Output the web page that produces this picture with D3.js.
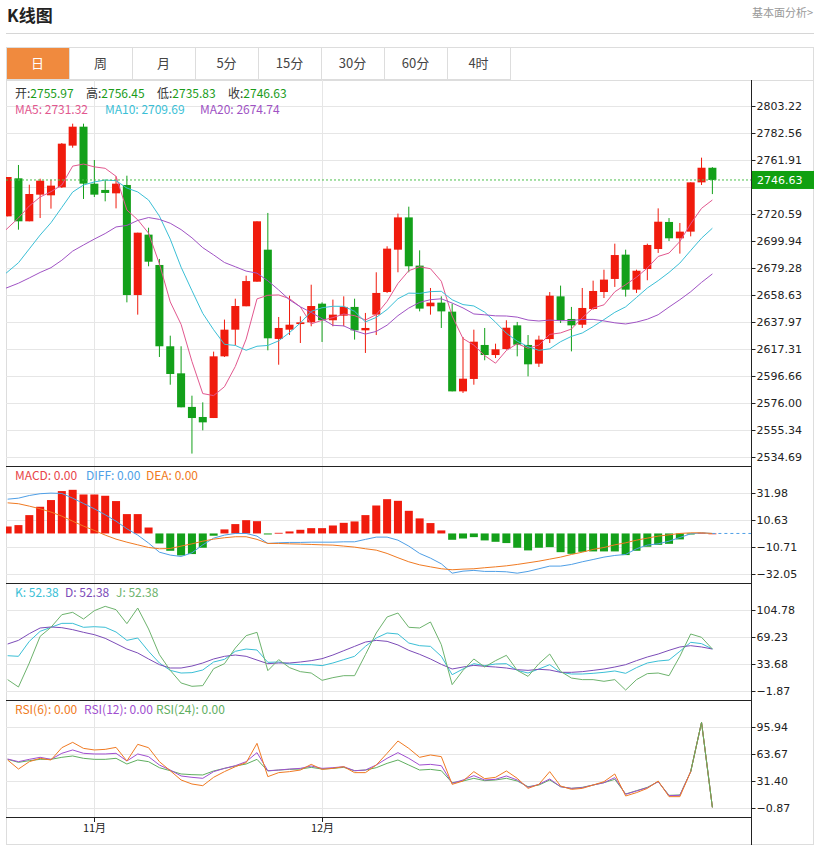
<!DOCTYPE html>
<html><head><meta charset="utf-8">
<script src="https://cdn.jsdelivr.net/npm/d3@7"></script>
<style>body{margin:0;background:#fff;font-family:"Noto Sans CJK SC","DejaVu Sans",sans-serif}</style>
</head><body><svg id="c" width="817" height="846"></svg>
<script>
const opens=[2718.8,2747.9,2715.0,2735.4,2734.9,2741.0,2772.9,2787.4,2743.8,2739.0,2736.4,2742.8,2658.6,2704.8,2681.6,2619.4,2598.7,2573.0,2565.3,2564.5,2611.7,2632.1,2650.0,2668.8,2693.3,2625.0,2632.1,2636.4,2637.7,2652.0,2639.3,2642.8,2649.5,2631.6,2643.6,2660.9,2693.3,2718.0,2681.1,2650.0,2652.8,2645.9,2584.9,2594.4,2620.4,2612.7,2617.3,2635.4,2620.4,2606.1,2624.9,2657.6,2640.3,2635.9,2647.9,2660.9,2670.9,2689.5,2662.7,2678.5,2693.8,2714.5,2702.0,2707.1,2744.8,2755.97];
const highs=[2748.9,2758.1,2743.0,2747.6,2746.9,2774.9,2789.7,2789.7,2761.9,2746.9,2749.4,2749.9,2706.3,2710.1,2686.2,2627.5,2619.4,2581.6,2576.5,2615.3,2639.8,2655.8,2673.4,2715.0,2721.4,2641.8,2658.1,2642.3,2666.5,2653.0,2655.1,2657.6,2655.8,2644.9,2676.0,2695.9,2720.9,2726.2,2692.8,2664.0,2657.6,2652.0,2626.5,2632.1,2633.4,2621.4,2639.3,2638.0,2628.0,2627.5,2660.9,2665.8,2649.5,2664.0,2669.6,2678.0,2697.9,2693.3,2678.0,2697.9,2724.9,2717.5,2713.7,2744.8,2763.7,2756.45];
const lows=[2718.8,2708.6,2715.0,2717.5,2724.7,2740.5,2771.3,2732.1,2733.6,2730.3,2724.9,2653.0,2643.6,2680.6,2611.2,2590.0,2572.7,2537.3,2555.1,2564.5,2611.2,2620.1,2650.0,2668.8,2616.3,2605.3,2628.0,2621.9,2634.7,2622.7,2634.7,2634.7,2624.5,2614.3,2628.0,2660.2,2676.0,2676.0,2646.1,2643.6,2633.4,2584.9,2583.7,2590.0,2608.7,2610.4,2616.8,2611.7,2596.4,2603.6,2621.9,2637.2,2615.5,2633.4,2647.4,2656.3,2664.8,2657.4,2660.2,2669.9,2690.8,2699.9,2690.3,2703.5,2742.8,2735.83];
const closes=[2748.9,2715.0,2735.9,2746.1,2742.3,2774.4,2787.4,2743.8,2735.4,2736.7,2743.8,2658.6,2706.3,2684.1,2619.4,2598.2,2572.7,2564.5,2561.2,2611.7,2632.1,2650.2,2669.3,2715.0,2625.5,2633.4,2635.9,2637.7,2650.2,2639.3,2643.6,2649.5,2631.6,2633.4,2660.2,2694.1,2718.0,2680.6,2648.2,2652.8,2646.1,2584.9,2594.6,2622.9,2612.7,2617.1,2633.6,2620.6,2605.6,2624.5,2658.1,2639.3,2635.4,2648.7,2661.7,2670.4,2689.2,2662.7,2677.2,2696.9,2714.7,2702.0,2707.1,2744.8,2756.0,2746.63];
const prevCloses=[2640,2655,2662,2670,2660,2648,2650,2645,2652,2643,2635,2630,2640,2648,2657,2670,2690,2712,2722];
const macdHist=[5.5,6.6,14.5,21.1,26.4,33.5,34.5,30.8,30.8,29.8,25.6,15.3,15.3,4.7,-7.9,-13.7,-17.4,-16.3,-11.3,-1.8,3.2,7.4,10.5,9.7,-0.8,0.5,1.6,2.9,4.2,4.2,6.3,8.4,9.5,14.5,22.1,27.1,25.8,17.9,11.9,8.2,2.4,-5.0,-4.0,-2.9,-5.5,-6.6,-7.6,-11.3,-13.4,-11.3,-10.8,-14.8,-16.1,-14.5,-14.2,-14.2,-14.2,-17.1,-13.7,-10.5,-9.0,-8.2,-4.7,-0.8,0.5,0];
const diff=[27.1,27.9,30.0,31.4,31.9,31.6,27.9,23.7,19.5,14.8,9.7,3.7,-1.3,-7.6,-14.8,-17.1,-18.2,-15.3,-9.0,-3.7,-1.3,0,0,-2.1,-7.9,-7.4,-7.1,-7.1,-6.9,-6.9,-6.9,-6.6,-6.6,-4.7,-2.9,-2.9,-5.3,-10.0,-15.8,-19.5,-24.0,-31.4,-29.8,-29.2,-30.0,-30.0,-30.3,-31.4,-30.0,-27.9,-25.8,-25.8,-24.5,-22.4,-20.6,-18.7,-17.4,-16.6,-12.1,-9.2,-8.2,-6.1,-3.2,-0.3,0.5,0];
const dea=[24.2,23.5,21.6,19.5,16.9,13.7,9.7,5.8,2.4,-1.3,-4.5,-6.9,-9.0,-11.1,-12.1,-11.9,-10.0,-8.2,-6.1,-4.5,-3.4,-2.6,-2.6,-4.7,-7.9,-7.9,-8.2,-8.4,-8.7,-9.0,-9.2,-10.0,-10.8,-12.1,-13.2,-15.8,-19.2,-22.4,-24.8,-26.4,-27.9,-28.7,-28.2,-27.9,-27.1,-26.4,-25.6,-24.5,-23.2,-21.9,-20.3,-18.7,-16.6,-14.8,-12.6,-11.1,-9.0,-7.4,-5.3,-3.7,-2.1,-1.1,0,0.5,0.5,0];
const kVals=[44.6,43.8,63.5,76.7,82.0,87.2,87.2,82.0,82.8,82.0,75.8,64.8,67.9,50.4,35.0,25.3,21.8,22.3,25.8,36.3,39.8,50.4,53.4,52.1,35.9,36.3,33.7,32.8,32.8,31.5,35.0,39.4,43.8,56.9,67.9,74.5,73.2,61.3,57.8,56.9,43.8,19.6,27.1,34.1,31.5,33.7,34.1,25.3,21.8,27.1,32.8,22.7,20.5,20.5,21.4,22.7,24.5,21.4,28.9,35.0,37.6,38.9,50.4,62.2,60.5,53.4];
const dVals=[60.0,64.8,73.6,81.1,82.4,81.5,78.9,75.4,72.3,67.5,60.5,53.4,48.2,40.3,32.8,28.4,28.4,31.0,35.0,40.3,43.8,45.5,43.8,38.9,34.1,35.0,35.0,36.3,38.1,40.7,45.5,51.2,56.9,62.6,64.8,63.5,58.7,51.7,46.4,40.3,33.2,27.1,29.7,31.9,30.6,29.7,28.4,26.2,25.3,26.7,25.8,22.7,22.7,23.6,25.3,27.1,29.7,32.8,38.1,42.9,46.8,51.7,56.1,57.8,56.1,53.4];
const jVals=[13.1,3.4,35.0,70.1,82.0,98.6,101.7,92.9,103.9,109.6,105.2,86.8,107.4,79.8,46.0,25.3,8.7,4.3,5.2,27.5,34.1,54.7,71.0,75.4,24.9,39.4,28.9,23.6,21.8,12.2,15.7,18.3,18.3,46.0,74.5,95.6,100.8,82.0,81.1,89.0,59.1,6.5,25.3,40.3,29.7,38.1,45.1,25.3,17.4,34.1,46.8,24.0,15.2,13.1,13.1,10.9,13.1,-0.6,13.1,21.0,21.8,18.3,43.8,73.2,68.8,53.4];
const rsi6=[56.5,45.7,54.5,58.5,56.5,71.2,77.6,70.4,68.5,69.2,71.6,55.3,75.2,71.2,54.5,43.7,32.6,27.8,25.8,35.8,42.6,48.5,53.3,76.4,36.6,41.4,42.6,44.5,51.3,45.3,46.5,48.5,41.4,41.4,50.5,64.5,79.2,70.4,59.7,62.5,60.5,27.4,31.4,42.6,34.2,35.8,43.4,34.6,22.6,27.4,42.6,25.4,21.4,22.6,26.6,30.6,39.8,13.5,17.5,22.6,31.4,12.7,12.7,42.6,101.5,-0.1];
const rsi12=[57.7,54.5,57.3,59.7,57.3,64.5,68.5,64.5,63.7,63.7,64.5,55.3,63.7,60.5,50.5,44.5,37.4,35.8,34.6,42.6,46.5,49.7,54.5,65.3,43.7,44.5,45.7,46.5,49.3,46.5,47.3,48.5,43.7,44.5,50.5,58.5,65.3,58.5,50.5,51.3,49.7,28.6,32.6,37.8,32.6,33.4,37.4,32.6,23.8,27.4,33.8,24.6,22.6,23.4,26.6,29.4,35.4,15.5,19.5,23.4,30.6,13.9,14.3,42.6,101.5,-0.1];
const rsi24=[57.3,53.7,55.7,57.3,57.3,59.7,61.3,58.5,57.3,57.3,58.5,51.7,56.5,54.5,47.3,43.7,39.8,39.0,38.6,43.4,46.5,49.3,51.7,57.3,43.4,44.5,45.3,45.7,47.7,45.7,46.5,47.7,43.7,44.5,47.3,52.5,56.5,50.5,44.5,45.3,43.7,29.4,31.4,34.6,31.8,32.6,34.6,31.4,24.6,26.6,32.6,24.6,22.6,23.8,26.6,29.4,33.4,15.9,19.8,23.8,30.6,14.3,14.7,42.6,101.5,-0.1];
const priceTicks=[2803.22,2782.56,2761.91,2741.25,2720.59,2699.94,2679.28,2658.63,2637.97,2617.31,2596.66,2576.00,2555.34,2534.69];
const macdTicks=[31.98,10.63,-10.71,-32.05];
const kdjTicks=[104.78,69.23,33.68,-1.87];
const rsiTicks=[95.94,63.67,31.40,-0.87];
const monthLabels=[{i:8,t:"11月"},{i:29,t:"12月"}];
const tabs=["日","周","月","5分","15分","30分","60分","4时"];

const svg=d3.select("#c");
const RED="#f01b0d",GREEN="#13a01a";
const L=6,R=751,RIGHT=814;
const n=closes.length;
const x=d3.scaleBand().domain(d3.range(n)).range([3.6,3.6+10.8*n]).paddingInner(0.26);
const cx=i=>x(i)+x.bandwidth()/2;
const defs=svg.append("defs");
defs.append("clipPath").attr("id","cp").append("rect").attr("x",L).attr("y",80).attr("width",R-L).attr("height",765);

svg.append("text").attr("x",7).attr("y",22).attr("font-size",17).attr("font-weight","bold").attr("fill","#222").text("K线图");
svg.append("text").attr("x",813).attr("y",17).attr("text-anchor","end").attr("font-size",11).attr("fill","#999").text("基本面分析>");
svg.append("line").attr("x1",L).attr("x2",RIGHT).attr("y1",33.5).attr("y2",33.5).attr("stroke","#d6d6d6");
svg.append("rect").attr("x",L+0.5).attr("y",47.5).attr("width",RIGHT-L-1).attr("height",797).attr("fill","none").attr("stroke","#ddd");
const tabX=d3.scaleBand().domain(tabs).range([L,L+63*8]);
tabs.forEach((t,k)=>{
  svg.append("rect").attr("x",tabX(t)+0.5).attr("y",47.5).attr("width",63).attr("height",32).attr("fill",k==0?"#f08a3e":"#fff").attr("stroke","#ddd");
  svg.append("text").attr("x",tabX(t)+31.5).attr("y",68).attr("text-anchor","middle").attr("font-size",13).attr("fill",k==0?"#fff":"#444").text(t);
});
svg.append("line").attr("x1",L).attr("x2",RIGHT).attr("y1",80.5).attr("y2",80.5).attr("stroke","#ddd");

const panels=[
 {scale:d3.scaleLinear().domain([2534.69,2803.22]).range([457,106]),ticks:priceTicks},
 {scale:d3.scaleLinear().domain([-32.05,31.98]).range([574,493]),ticks:macdTicks},
 {scale:d3.scaleLinear().domain([-1.87,104.78]).range([691,610]),ticks:kdjTicks},
 {scale:d3.scaleLinear().domain([-0.87,95.94]).range([808,727]),ticks:rsiTicks}];
panels.forEach((p,pi)=>{
  p.ticks.forEach(t=>{
    const y=Math.round(p.scale(t))+0.5;
    svg.append("line").attr("x1",L).attr("x2",R).attr("y1",y).attr("y2",y).attr("stroke","#e6e6e6");
  });
  // the tick hidden under the last-price tag is skipped for text, kept as tick mark
  const ax=d3.axisRight(p.scale).tickValues(p.ticks).tickSize(4).tickFormat(d=>(pi==0&&d==2741.25)?"":d3.format(".2f")(d));
  const a=svg.append("g").attr("transform",`translate(${R+0.5},0)`).call(ax);
  a.select(".domain").remove();
  a.selectAll("text").attr("font-family","DejaVu Sans").attr("font-size",11).attr("fill","#222").attr("dx",-2);
  a.selectAll("line").attr("stroke","#222");
});
monthLabels.forEach(m=>{
  const xx=Math.round(cx(m.i))+0.5;
  svg.append("line").attr("x1",xx).attr("x2",xx).attr("y1",80).attr("y2",817).attr("stroke","#e6e6e6");
  svg.append("line").attr("x1",xx).attr("x2",xx).attr("y1",817).attr("y2",822).attr("stroke","#222");
  svg.append("text").attr("x",xx).attr("y",832).attr("text-anchor","middle").attr("font-size",11).attr("fill","#222").text(m.t);
});
[466,583,700,817].forEach(y=>svg.append("line").attr("x1",L).attr("x2",R).attr("y1",y+0.5).attr("y2",y+0.5).attr("stroke","#222"));
svg.append("line").attr("x1",R+0.5).attr("x2",R+0.5).attr("y1",80).attr("y2",845).attr("stroke","#222");

const plot=svg.append("g").attr("clip-path","url(#cp)");
const ys=panels[0].scale;
const candles=plot.selectAll(".cd").data(d3.range(n)).join("g");
candles.append("line").attr("x1",i=>cx(i)).attr("x2",i=>cx(i)).attr("y1",i=>ys(highs[i])).attr("y2",i=>ys(lows[i]))
 .attr("stroke",i=>closes[i]>=opens[i]?RED:GREEN);
candles.append("rect").attr("x",i=>x(i)).attr("width",x.bandwidth())
 .attr("y",i=>ys(Math.max(opens[i],closes[i]))).attr("height",i=>Math.max(1,Math.abs(ys(opens[i])-ys(closes[i]))))
 .attr("fill",i=>closes[i]>=opens[i]?RED:GREEN);
const all=prevCloses.concat(closes);
const ma=p=>d3.range(n).map(i=>d3.mean(all.slice(i+prevCloses.length-p+1,i+prevCloses.length+1)));
const lineP=(sc,vals)=>d3.line().x((d,i)=>cx(i)).y(d=>sc(d))(vals);
[[5,"#e2588f"],[10,"#3bbfd6"],[20,"#a053c4"]].forEach(([p,c])=>{
  plot.append("path").attr("d",d3.line().x((d,i)=>i==0?L:cx(i)).y(d=>ys(d))(ma(p))).attr("fill","none").attr("stroke",c);
});
const last=closes[n-1];
svg.append("line").attr("x1",L).attr("x2",R).attr("y1",ys(last)).attr("y2",ys(last)).attr("stroke","#4cbf4c").attr("stroke-dasharray","2,2");
svg.append("rect").attr("x",R+1).attr("y",ys(last)-9).attr("width",RIGHT-R-1).attr("height",18).attr("fill","#10a010");
svg.append("text").attr("x",R+6).attr("y",ys(last)+4.5).attr("font-family","DejaVu Sans").attr("font-size",11).attr("fill","#fff").text(last.toFixed(2));

const ym=panels[1].scale;
plot.selectAll(".mh").data(macdHist).join("rect").attr("x",(d,i)=>x(i)).attr("width",x.bandwidth())
 .attr("y",d=>ym(Math.max(0,d))).attr("height",d=>Math.max(0.8,Math.abs(ym(d)-ym(0)))).attr("fill",d=>d>=0?RED:GREEN);
plot.append("path").attr("d",lineP(ym,diff)).attr("fill","none").attr("stroke","#4f9fe6");
plot.append("path").attr("d",lineP(ym,dea)).attr("fill","none").attr("stroke","#f07a22");
svg.append("line").attr("x1",cx(n-1)).attr("x2",R).attr("y1",ym(0)).attr("y2",ym(0)).attr("stroke","#4f9fe6").attr("stroke-dasharray","3,3");
const yk=panels[2].scale;
[[kVals,"#3bbfd6"],[dVals,"#7c4cb8"],[jVals,"#6db36d"]].forEach(([v,c])=>plot.append("path").attr("d",lineP(yk,v)).attr("fill","none").attr("stroke",c));
const yr=panels[3].scale;
[[rsi24,"#5fae5f"],[rsi12,"#a04fd0"],[rsi6,"#f07a22"]].forEach(([v,c])=>plot.append("path").attr("d",lineP(yr,v)).attr("fill","none").attr("stroke",c));
plot.append("path").attr("d",d3.line().x(d=>cx(d)).y(d=>yr(rsi24[d]))([n-3,n-2,n-1])).attr("fill","none").attr("stroke","#5fae5f");

function legend(y,items){
  items.forEach(([xx,segs])=>{
    const t=svg.append("text").attr("x",xx).attr("y",y).attr("font-size",12);
    segs.forEach(([s,c])=>t.append("tspan").attr("fill",c).text(s));
  });
}
const G="#1a9c1a",K="#333";
legend(98,[[15,[["开:",K],[opens[n-1].toFixed(2),G]]],[86,[["高:",K],[highs[n-1].toFixed(2),G]]],[157,[["低:",K],[lows[n-1].toFixed(2),G]]],[228,[["收:",K],[last.toFixed(2),G]]]]);
legend(114,[[15,[["MA5: 2731.32","#e2588f"]]],[105,[["MA10: 2709.69","#3bbfd6"]]],[200,[["MA20: 2674.74","#a053c4"]]]]);
legend(480,[[15,[["MACD: 0.00","#e8454a"]]],[86,[["DIFF: 0.00","#4f9fe6"]]],[146,[["DEA: 0.00","#f07a22"]]]]);
legend(597,[[15,[["K: 52.38","#3bbfd6"]]],[65,[["D: 52.38","#7c4cb8"]]],[116,[["J: 52.38","#6db36d"]]]]);
legend(714,[[15,[["RSI(6): 0.00","#f07a22"]]],[84,[["RSI(12): 0.00","#a04fd0"]]],[156,[["RSI(24): 0.00","#5fae5f"]]]]);
</script></body></html>
